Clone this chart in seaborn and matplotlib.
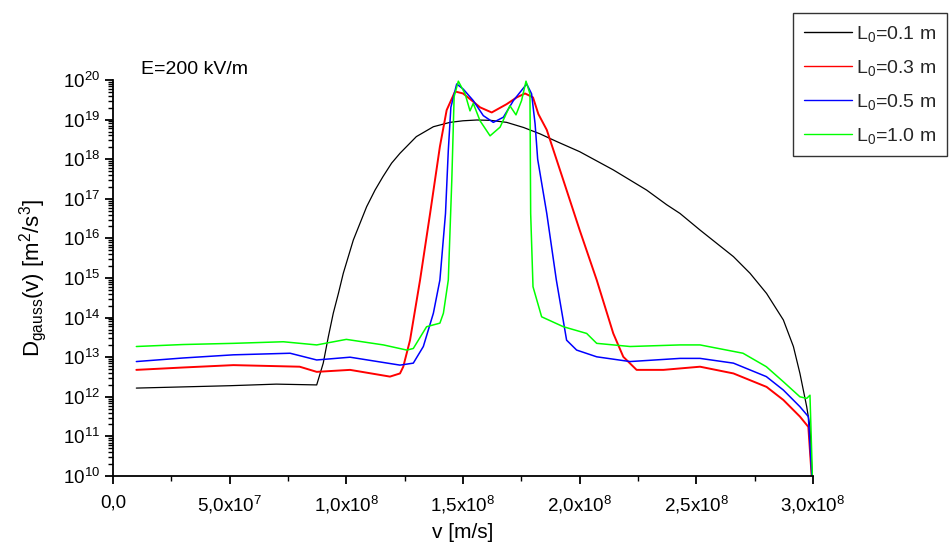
import numpy as np
import pandas as pd
import matplotlib
matplotlib.use("Agg")
import matplotlib.pyplot as plt
import seaborn as sns
from matplotlib.ticker import FixedLocator, LogLocator, NullFormatter

sns.set_theme(style="white")
plt.rcParams['font.family'] = ['Liberation Sans', 'DejaVu Sans']
plt.rcParams['mathtext.fontset'] = 'custom'
plt.rcParams['mathtext.rm'] = 'Liberation Sans'
plt.rcParams['mathtext.it'] = 'Liberation Sans'

# velocity in units of 1e8 m/s, values as log10(D)
v_black = [0.10, 0.30, 0.50, 0.70, 0.873, 0.901, 0.923, 0.944, 0.966, 0.987, 1.03, 1.087, 1.123, 1.157,
           1.194, 1.23, 1.30, 1.373, 1.444, 1.50, 1.56, 1.62, 1.687, 1.76, 1.83, 1.90, 2.0, 2.144, 2.287,
           2.373, 2.43, 2.516, 2.659, 2.73, 2.801, 2.873, 2.916, 2.944, 2.973, 2.987, 3.0]
log_black = [12.22, 12.25, 12.28, 12.32, 12.30, 12.85, 13.52, 14.11, 14.61, 15.12, 15.96, 16.80, 17.22, 17.56,
             17.90, 18.15, 18.57, 18.82, 18.93, 18.97, 18.99, 18.98, 18.93, 18.80, 18.64, 18.45, 18.19, 17.73,
             17.22, 16.85, 16.63, 16.21, 15.54, 15.12, 14.61, 13.94, 13.27, 12.59, 11.75, 11.24, 9.5]

v_red = [0.10, 0.30, 0.516, 0.80, 0.873, 1.016, 1.187, 1.23, 1.244, 1.273, 1.316, 1.359, 1.401, 1.43,
         1.466, 1.50, 1.53, 1.573, 1.623, 1.687, 1.73, 1.766, 1.80, 1.823, 1.859, 1.93, 2.0, 2.073,
         2.144, 2.187, 2.244, 2.359, 2.516, 2.659, 2.801, 2.873, 2.944, 2.98, 3.0]
log_red = [12.68, 12.74, 12.80, 12.76, 12.63, 12.68, 12.51, 12.59, 12.76, 13.43, 14.95, 16.63, 18.32, 19.24,
           19.71, 19.66, 19.52, 19.31, 19.18, 19.39, 19.56, 19.66, 19.56, 19.14, 18.74, 17.47, 16.21, 14.95,
           13.60, 13.01, 12.68, 12.68, 12.76, 12.59, 12.25, 11.92, 11.5, 11.24, 9.5]

v_blue = [0.10, 0.30, 0.516, 0.759, 0.873, 1.016, 1.23, 1.287, 1.33, 1.373, 1.401, 1.425, 1.437, 1.448,
          1.473, 1.501, 1.544, 1.587, 1.63, 1.673, 1.716, 1.773, 1.794, 1.809, 1.82, 1.859, 1.90, 1.944,
          1.987, 2.073, 2.216, 2.43, 2.516, 2.659, 2.80, 2.873, 2.944, 2.98, 3.0]
log_blue = [12.89, 12.98, 13.06, 13.10, 12.93, 13.0, 12.80, 12.85, 13.27, 14.11, 14.95, 16.63, 18.22, 19.31,
            19.90, 19.77, 19.48, 19.10, 18.93, 19.06, 19.48, 19.90, 19.65, 18.89, 18.0, 16.63, 14.95, 13.43,
            13.18, 13.01, 12.89, 12.97, 12.97, 12.85, 12.51, 12.17, 11.75, 11.5, 9.5]

v_green = [0.10, 0.30, 0.516, 0.73, 0.873, 1.0, 1.159, 1.259, 1.287, 1.344, 1.401, 1.416, 1.437, 1.452,
           1.462, 1.48, 1.509, 1.53, 1.544, 1.573, 1.616, 1.659, 1.701, 1.727, 1.751, 1.77, 1.787, 1.79,
           1.80, 1.837, 1.93, 2.03, 2.073, 2.216, 2.43, 2.516, 2.70, 2.80, 2.873, 2.944, 2.973, 2.987, 3.0]
log_green = [13.27, 13.32, 13.35, 13.39, 13.31, 13.45, 13.31, 13.18, 13.22, 13.77, 13.86, 14.11, 14.95, 17.47,
             19.58, 19.97, 19.65, 19.22, 19.41, 18.97, 18.59, 18.81, 19.35, 19.12, 19.48, 19.97, 19.65, 16.63,
             14.78, 14.02, 13.77, 13.6, 13.35, 13.27, 13.31, 13.31, 13.1, 12.76, 12.38, 12.0, 11.96, 12.04, 9.5]

labels = ["L$_0$=0.1 m", "L$_0$=0.3 m", "L$_0$=0.5 m", "L$_0$=1.0 m"]
colors = ["#000000", "#ff0000", "#0000ff", "#00ff00"]
xtick_vals = [0.0, 0.5, 1.0, 1.5, 2.0, 2.5, 3.0]
xtick_labels = ["0,0", "5,0x10$^{7}$", "1,0x10$^{8}$", "1,5x10$^{8}$", "2,0x10$^{8}$", "2,5x10$^{8}$", "3,0x10$^{8}$"]

fig = plt.figure(figsize=(9.53, 5.52), dpi=100)
ax = fig.add_axes([113/953, 1-476/552, 700/953, 396/552])

series = [(v_black, log_black, 0.9), (v_red, log_red, 1.4), (v_blue, log_blue, 1.1), (v_green, log_green, 1.1)]
for (vv, ll, lw), lab, col in zip(series, labels, colors):
    df = pd.DataFrame({"v": np.array(vv) * 1e8, "D": 10.0 ** np.array(ll)})
    sns.lineplot(data=df, x="v", y="D", ax=ax, color=col, linewidth=lw, label=lab,
                 sort=False, estimator=None)

ax.set_yscale("log")
ax.set_xlim(0, 3e8)
ax.set_ylim(1e10, 1e20)

ax.xaxis.set_major_locator(FixedLocator([t * 1e8 for t in xtick_vals]))
ax.set_xticklabels(xtick_labels)
ax.xaxis.set_minor_locator(FixedLocator([t * 1e8 + 0.25e8 for t in xtick_vals[:-1]]))
ax.yaxis.set_major_locator(LogLocator(base=10, numticks=20))
ax.yaxis.set_minor_locator(LogLocator(base=10, subs=np.arange(2, 10), numticks=20))
ax.yaxis.set_minor_formatter(NullFormatter())

for s in ["top", "right"]:
    ax.spines[s].set_visible(False)
for s in ["left", "bottom"]:
    ax.spines[s].set_color("black")
    ax.spines[s].set_linewidth(1.3)

ax.tick_params(axis="both", which="major", direction="out", length=6, width=1.3,
               colors="black", labelsize=13.5, left=True, bottom=True)
ax.tick_params(axis="both", which="minor", direction="out", length=3.5, width=1.0,
               colors="black", left=True, bottom=True)
ax.tick_params(axis="x", which="major", pad=7)
ax.grid(False)

ax.set_xlabel("v [m/s]", fontsize=15, color="black", labelpad=5)
ax.set_ylabel("D$_{\\mathrm{gauss}}$(v) [m$^{2}$/s$^{3}$]", fontsize=16, color="black", labelpad=10)

fig.text(141/953, 1-70/552, "E=200 kV/m", fontsize=14, color="black", va="center", ha="left")

leg = ax.legend(loc="upper left", bbox_to_anchor=(793/953, 1-13/552), bbox_transform=fig.transFigure,
                fontsize=14, frameon=True, fancybox=False, edgecolor="black", handlelength=2.5,
                borderpad=0.55, labelspacing=0.72, handletextpad=0.2, borderaxespad=0)
leg.get_frame().set_linewidth(1.0)
for line in leg.get_lines():
    line.set_linewidth(1.0)

fig.savefig("out.png", dpi=100)
